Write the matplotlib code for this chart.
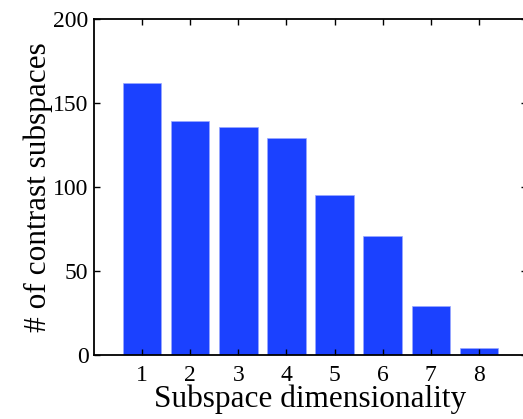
import matplotlib
matplotlib.use('Agg')
import matplotlib.pyplot as plt

dims = [1, 2, 3, 4, 5, 6, 7, 8]
counts = [162, 139, 136, 129, 95, 71, 29, 4]

plt.rcParams['font.family'] = ['Liberation Serif', 'DejaVu Serif']

fig = plt.figure(figsize=(5.23, 4.19), dpi=100)
ax = fig.add_axes([94/523, 1 - 355/419, (527 - 94)/523, (355 - 19)/419])
ax.bar(dims, counts, width=0.8, color='#1b41ff', edgecolor='#9aa8ff', linewidth=0.5)
ax.set_xlim(0, 9)
ax.set_ylim(0, 200)
ax.set_xticks(dims)
ax.set_yticks([0, 50, 100, 150, 200])
ax.tick_params(direction='in', top=True, right=True, labelsize=17, length=4, width=1)
ax.tick_params(axis='x', pad=7)
ax.tick_params(axis='y', pad=4)
for s in ax.spines.values():
  s.set_linewidth(1.3)
ax.set_xlabel('Subspace dimensionality', fontsize=22.5, labelpad=-1)
ax.set_ylabel('# of contrast subspaces', fontsize=22.5, labelpad=0)
fig.savefig('out.png', dpi=100)
